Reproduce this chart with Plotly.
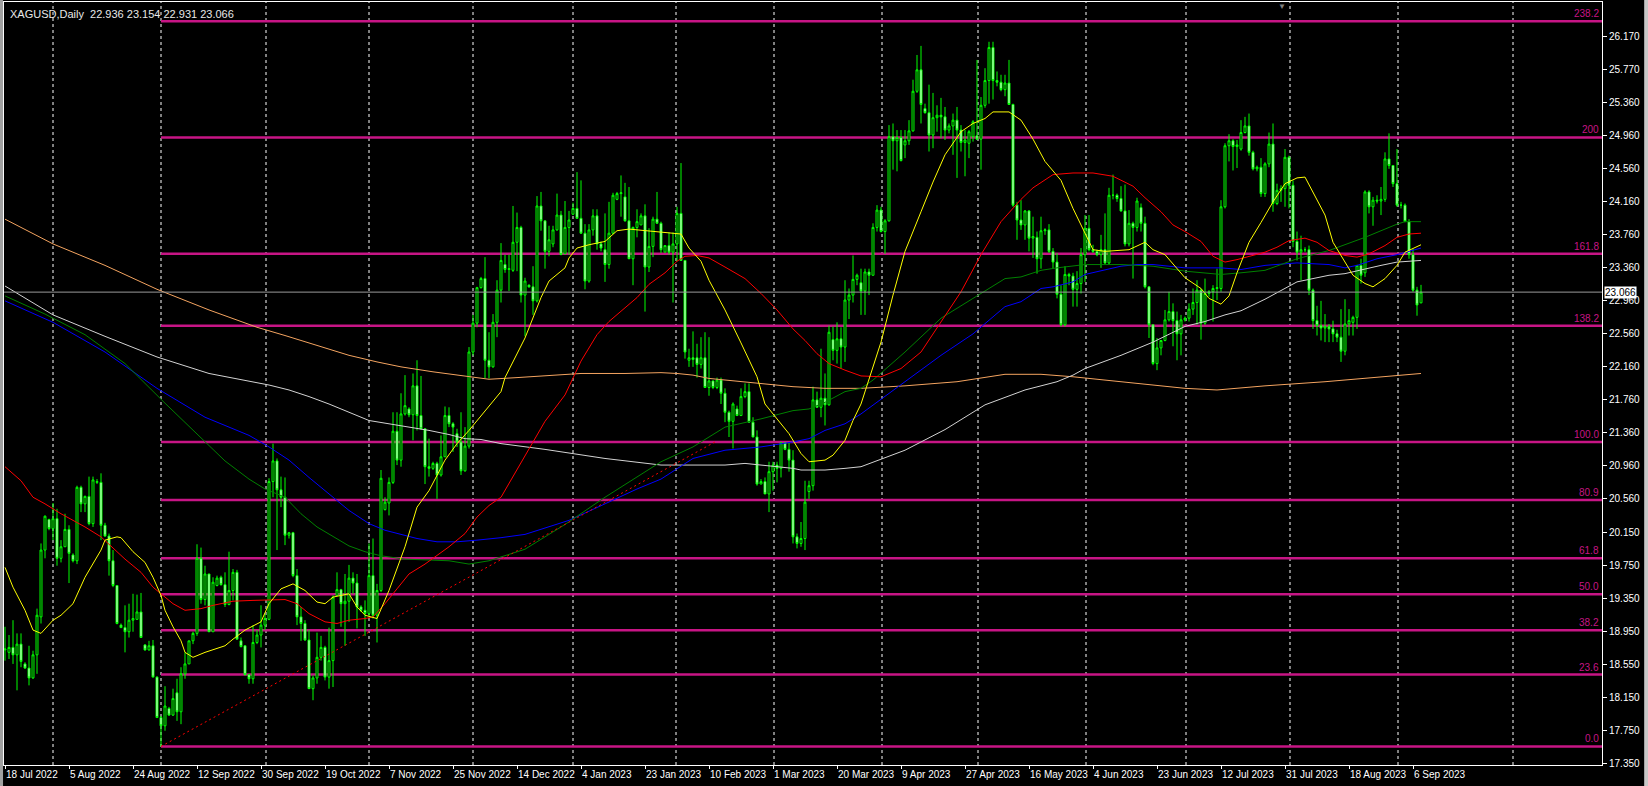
import plotly.graph_objects as go

# ---------------- DATA ----------------
opens = [
18.73,18.70,18.76,18.67,18.80,18.56,18.51,18.39,18.67,19.13,
19.94,20.31,20.20,20.32,19.84,19.98,20.19,19.88,19.81,20.70,
20.50,20.59,20.26,20.76,20.76,20.24,20.11,19.81,19.51,19.03,
19.00,18.95,19.09,19.10,19.19,18.79,18.73,18.78,18.40,17.91,
17.81,18.02,17.94,18.21,17.98,18.44,18.56,18.84,18.93,19.84,
19.34,19.65,18.95,19.51,19.61,19.52,19.28,19.45,19.67,18.84,
18.78,18.43,18.38,18.82,18.91,19.03,19.10,20.77,21.02,20.67,
20.58,20.12,20.15,19.63,19.13,19.05,18.85,18.26,18.39,18.64,
18.76,18.40,18.60,19.39,19.46,19.29,19.32,19.60,19.54,19.25,
19.21,19.17,19.63,19.15,19.45,20.43,20.51,20.76,21.38,21.03,
21.59,21.65,21.58,21.93,21.57,21.41,20.95,20.93,20.99,20.85,
21.07,21.57,21.47,21.35,21.25,20.90,21.20,22.34,22.69,23.12,
23.23,22.24,22.16,22.70,23.09,23.40,23.34,23.33,23.67,23.85,
23.03,23.15,23.13,22.96,24.11,23.93,23.56,23.65,23.82,24.00,
23.53,23.85,24.01,24.08,23.96,23.78,23.20,23.82,23.99,23.65,
23.58,23.40,23.78,24.19,24.26,24.22,23.93,23.47,23.85,23.88,
23.99,23.37,23.62,23.95,23.90,23.55,23.63,23.55,23.65,24.02,
23.45,22.24,22.27,22.27,22.19,22.27,21.91,21.99,21.91,22.00,
21.84,21.61,21.50,21.65,21.57,21.80,21.86,21.49,21.31,20.74,
20.77,20.62,20.89,20.97,20.93,21.24,21.16,21.03,20.10,20.02,
20.08,20.65,20.72,21.76,21.67,21.78,21.70,22.49,22.36,22.50,
22.40,22.97,23.03,23.22,23.18,23.08,23.31,23.27,23.85,24.06,
23.80,23.93,24.95,24.90,24.94,24.85,24.90,25.02,25.50,25.76,
25.29,25.24,24.97,25.18,25.21,25.19,25.03,25.08,25.15,25.03,
24.88,24.87,24.95,24.96,24.92,25.33,25.63,26.03,25.63,25.61,
25.52,25.60,25.34,24.12,23.94,23.88,24.05,23.72,23.73,23.47,
23.81,23.82,23.56,23.43,23.04,22.67,23.28,23.26,23.10,23.17,
23.52,23.84,23.58,23.56,23.52,23.58,23.42,24.24,24.24,24.20,
24.05,23.65,23.90,23.85,24.09,23.90,23.13,22.67,22.20,22.39,
22.48,22.73,22.83,22.72,22.56,22.73,22.75,22.86,22.94,23.09,
22.69,23.05,23.07,23.11,23.11,24.10,24.84,24.90,24.83,24.80,
25.00,25.08,24.76,24.56,24.58,24.26,24.62,24.86,24.14,24.30,
24.32,24.70,24.36,23.68,23.55,23.58,23.58,23.09,22.72,22.66,
22.63,22.65,22.62,22.56,22.52,22.35,22.68,22.70,22.76,23.39,
23.30,24.28,24.10,24.18,24.17,24.19,24.68,24.60,24.38,24.12,
24.12,23.92,23.52,23.09,22.936]

highs = [
19.01,18.91,19.09,18.93,18.93,18.58,18.78,18.72,19.23,20.02,
20.36,20.32,20.51,20.44,20.06,20.38,20.24,19.90,20.72,20.72,
20.60,20.83,20.83,20.80,20.87,20.27,20.14,19.94,19.51,19.05,
19.27,19.29,19.41,19.40,19.42,18.80,18.84,18.85,18.41,17.93,
18.29,18.04,18.26,18.38,18.52,18.70,18.84,18.95,20.01,19.97,
19.75,19.65,19.61,19.63,19.63,19.67,19.92,19.71,19.70,18.88,
18.78,18.44,19.03,18.97,19.27,19.17,20.81,21.23,21.05,20.83,
20.82,20.16,20.16,19.71,19.25,19.09,18.97,18.42,18.94,18.90,
18.78,19.00,19.39,19.67,19.47,19.65,19.76,19.67,19.65,19.27,
19.33,20.02,20.08,19.53,20.91,20.58,20.82,21.61,21.61,21.84,
22.06,21.67,22.08,22.24,22.05,21.41,21.29,21.01,21.01,21.33,
21.68,21.67,21.49,21.41,21.61,21.43,22.40,22.79,23.13,23.25,
23.49,22.58,22.80,23.21,23.66,23.52,23.52,24.11,24.03,23.87,
23.24,23.16,23.38,24.23,24.28,23.93,23.87,23.87,24.26,24.05,
24.17,24.05,24.15,24.52,24.42,23.89,23.89,24.07,24.07,23.68,
24.02,24.16,24.27,24.28,24.48,24.39,24.34,23.86,24.07,24.02,
24.13,23.84,23.98,24.28,23.92,23.63,23.79,23.79,24.10,24.63,
23.45,22.38,22.59,22.44,22.52,22.58,22.52,21.99,22.03,22.03,
21.90,21.63,21.73,21.69,21.90,21.96,21.96,21.55,21.39,20.80,
20.82,21.01,21.01,21.01,21.25,21.24,21.25,21.15,20.14,20.28,
20.78,20.78,21.92,21.86,22.38,22.08,22.66,22.65,22.70,22.64,
23.21,23.11,23.51,23.29,23.35,23.35,23.35,23.90,24.12,24.10,
23.95,25.09,25.11,25.03,25.03,25.03,25.15,25.64,25.94,26.05,
25.35,25.58,25.48,25.33,25.42,25.31,25.11,25.23,25.31,25.09,
25.03,25.03,25.15,25.88,25.43,25.78,26.10,26.10,25.74,25.70,
25.70,25.88,25.35,24.16,24.18,24.06,24.06,23.98,23.80,23.98,
23.84,23.89,23.60,23.54,23.15,23.38,23.30,23.30,23.32,23.60,
24.00,24.00,23.64,23.58,23.76,24.02,24.33,24.49,24.26,24.35,
24.37,24.06,23.92,24.21,24.14,23.98,23.13,22.67,22.51,22.48,
22.85,23.07,22.93,22.83,22.79,22.77,22.93,23.11,23.21,23.11,
23.23,23.09,23.15,23.35,24.18,24.87,24.98,24.92,24.91,25.15,
25.19,25.23,24.78,24.60,24.69,24.64,25.00,25.11,24.38,24.36,
24.80,24.72,24.42,23.80,23.75,23.61,23.63,23.11,22.90,22.96,
22.80,22.68,22.72,22.61,22.86,22.98,22.86,22.78,23.39,23.47,
24.30,24.30,24.22,24.24,24.34,24.76,24.99,24.60,24.80,24.16,
24.14,23.95,23.59,23.13,23.154]

lows = [
18.60,18.62,18.56,18.24,18.52,18.50,18.30,18.38,18.44,19.05,
19.84,20.18,20.06,19.75,19.79,19.98,19.54,19.79,19.77,20.40,
20.40,20.24,20.22,20.74,20.06,20.10,19.63,19.49,19.04,19.00,
18.70,18.88,18.95,19.10,18.88,18.72,18.72,18.40,17.91,17.56,
17.75,17.93,17.93,17.87,17.83,18.38,18.56,18.80,18.90,19.29,
19.27,18.95,18.95,19.50,19.51,19.25,19.27,19.33,18.86,18.76,
18.42,18.32,18.32,18.80,18.76,18.97,19.09,20.58,19.94,20.46,
20.00,20.08,19.61,19.03,18.84,18.84,18.26,18.12,18.32,18.60,
18.36,18.26,18.28,19.39,19.01,18.78,19.07,19.41,18.99,19.19,
18.90,19.13,19.11,18.82,19.43,20.42,20.36,20.74,20.97,20.95,
21.57,21.55,21.27,21.39,21.40,20.74,20.83,20.91,20.56,20.83,
21.07,21.43,21.13,21.19,20.85,20.89,21.17,22.30,22.64,23.11,
22.02,22.02,22.15,22.52,22.94,23.30,23.08,23.31,23.32,22.94,
22.53,23.12,22.79,22.94,23.81,23.35,23.50,23.61,23.81,23.52,
23.53,23.52,24.00,23.96,23.77,23.10,23.18,23.75,23.58,23.56,
23.19,23.35,23.77,24.18,23.98,23.92,23.47,23.15,23.73,23.88,
22.83,23.31,23.49,23.90,23.54,23.55,23.52,22.94,23.44,23.45,
22.26,22.16,22.16,22.03,22.14,21.91,21.81,21.89,21.89,21.71,
21.49,21.31,21.17,21.57,21.57,21.78,21.49,21.31,20.72,20.74,
20.62,20.40,20.66,20.76,20.82,21.15,20.89,20.02,19.96,19.98,
19.94,20.56,20.66,21.67,21.55,21.45,21.69,22.24,22.20,22.14,
22.22,22.74,22.94,23.15,22.79,22.79,23.03,23.27,23.80,23.79,
23.53,23.92,24.55,24.53,24.65,24.69,24.85,25.01,25.48,25.11,
25.23,24.77,24.81,25.01,24.93,24.91,24.99,24.73,24.45,24.77,
24.47,24.69,24.89,24.91,24.55,25.30,25.35,25.40,25.56,25.50,
25.44,25.34,24.10,23.70,23.82,23.70,23.56,23.48,23.29,23.35,
23.76,23.54,23.35,22.99,22.65,22.65,23.15,22.89,22.89,23.05,
23.19,23.56,23.54,23.50,23.36,23.40,23.40,24.19,24.16,24.04,
23.62,23.62,23.23,23.80,23.80,23.11,22.51,22.18,22.12,22.30,
22.47,22.71,22.41,22.24,22.30,22.71,22.71,22.79,22.67,22.49,
22.67,23.01,22.71,22.97,23.07,24.08,24.65,24.54,24.57,24.78,
24.99,24.72,24.54,24.53,24.22,24.22,24.58,24.04,24.12,24.16,
24.10,24.08,23.61,23.45,23.21,23.55,23.03,22.62,22.54,22.48,
22.46,22.46,22.46,22.46,22.22,22.30,22.54,22.54,22.62,23.17,
23.25,24.02,23.87,24.14,24.00,24.16,24.56,24.34,24.10,24.08,
23.92,23.47,23.07,22.78,22.931]

closes = [
18.74,18.76,18.67,18.80,18.59,18.51,18.39,18.67,19.15,19.94,
20.35,20.20,20.32,19.84,19.98,20.19,19.90,19.81,20.70,20.50,
20.59,20.26,20.79,20.77,20.24,20.11,19.81,19.51,19.05,19.00,
18.95,19.09,19.11,19.19,18.88,18.73,18.78,18.40,17.91,17.81,
18.05,17.94,18.14,17.98,18.44,18.56,18.84,18.93,19.84,19.34,
19.65,18.95,19.55,19.60,19.52,19.28,19.45,19.67,18.86,18.77,
18.43,18.38,18.82,18.91,19.03,19.11,20.77,21.02,20.67,20.58,
20.12,20.15,19.63,19.13,19.05,18.85,18.26,18.39,18.64,18.76,
18.40,18.60,19.37,19.46,19.29,19.32,19.60,19.54,19.25,19.21,
19.17,19.63,19.15,19.45,20.81,20.52,20.76,21.38,21.03,21.59,
21.69,21.58,21.93,21.57,21.41,20.95,20.93,20.99,20.85,21.07,
21.57,21.47,21.43,21.25,20.90,21.20,22.34,22.69,23.12,23.23,
22.24,22.16,22.70,23.09,23.45,23.34,23.35,23.67,23.85,23.03,
23.20,23.13,22.96,24.11,23.93,23.56,23.70,23.82,24.00,23.52,
23.85,23.94,24.08,23.96,23.78,23.20,23.82,23.99,23.65,23.60,
23.40,23.78,24.24,24.26,24.27,23.93,23.47,23.85,23.92,23.99,
23.37,23.62,23.95,23.90,23.58,23.63,23.55,23.65,24.02,23.45,
22.34,22.27,22.25,22.19,22.27,21.91,21.99,21.91,22.00,21.84,
21.61,21.50,21.71,21.57,21.80,21.86,21.49,21.31,20.74,20.77,
20.62,20.89,20.97,20.93,21.24,21.16,21.03,20.10,20.02,20.08,
20.52,20.72,21.76,21.67,21.78,21.70,22.58,22.36,22.50,22.40,
22.97,23.03,23.22,23.27,23.08,23.31,23.27,23.85,24.06,23.80,
23.93,24.95,24.90,24.94,24.66,24.90,25.02,25.50,25.76,25.34,
25.24,24.97,25.18,25.21,25.19,25.03,25.08,25.15,25.03,24.88,
24.91,25.01,25.13,24.92,25.33,25.63,26.03,25.63,25.61,25.52,
25.60,25.34,24.12,23.94,23.88,24.05,23.72,23.74,23.47,23.81,
23.82,23.56,23.43,23.04,22.67,23.28,23.26,23.10,23.17,23.52,
23.84,23.58,23.56,23.52,23.58,23.42,24.24,24.24,24.20,24.05,
23.65,23.90,23.85,24.17,23.90,23.13,22.67,22.20,22.39,22.48,
22.73,22.83,22.72,22.56,22.73,22.75,22.86,22.94,23.09,22.69,
23.05,23.07,23.11,23.12,24.10,24.84,24.90,24.83,24.85,25.00,
25.08,24.76,24.56,24.58,24.26,24.62,24.86,24.14,24.30,24.32,
24.70,24.36,23.68,23.55,23.58,23.58,23.09,22.72,22.66,22.63,
22.65,22.62,22.56,22.52,22.35,22.68,22.72,22.76,23.39,23.27,
24.28,24.10,24.18,24.17,24.19,24.68,24.60,24.38,24.12,24.12,
23.92,23.52,23.09,22.91,23.066]

bar_index = list(range(len(closes)))

date_tick_bars = list(range(0, 353, 16))
date_tick_labels = ["18 Jul 2022", "5 Aug 2022", "24 Aug 2022", "12 Sep 2022", "30 Sep 2022",
                    "19 Oct 2022", "7 Nov 2022", "25 Nov 2022", "14 Dec 2022", "4 Jan 2023",
                    "23 Jan 2023", "10 Feb 2023", "1 Mar 2023", "20 Mar 2023", "9 Apr 2023",
                    "27 Apr 2023", "16 May 2023", "4 Jun 2023", "23 Jun 2023", "12 Jul 2023",
                    "31 Jul 2023", "18 Aug 2023", "6 Sep 2023"]

price_ticks = [26.170, 25.770, 25.360, 24.960, 24.560, 24.160, 23.760, 23.360, 22.960, 22.560,
               22.160, 21.760, 21.360, 20.960, 20.560, 20.150, 19.750, 19.350, 18.950, 18.550,
               18.150, 17.750, 17.350]

# moving averages (bar index, value)
ma_yellow_bars = [0,2,5,7,9,12,14,17,20,24,25,28,29,32,35,37,39,40,42,44,45,47,50,55,57,60,64,66,69,72,75,78,80,82,86,88,90,93,96,100,103,106,110,113,116,120,124,125,130,134,136,140,141,143,146,150,153,156,161,166,169,171,174,176,180,184,188,190,193,196,199,201,205,207,210,212,214,216,219,222,225,229,232,235,239,242,245,247,251,254,257,260,264,267,270,272,275,279,281,285,287,290,293,295,299,301,304,306,308,311,314,317,320,323,325,327,330,332,335,337,340,342,345,348,350,354]
ma_yellow = [19.73,19.49,19.21,18.97,18.93,19.09,19.15,19.29,19.61,19.94,20.06,20.10,20.09,19.92,19.79,19.61,19.39,19.21,19.01,18.84,18.70,18.64,18.70,18.78,18.86,18.97,19.07,19.29,19.47,19.53,19.45,19.31,19.29,19.37,19.41,19.25,19.15,19.11,19.45,19.98,20.46,20.66,21.03,21.23,21.39,21.63,21.86,22.03,22.51,23.00,23.20,23.36,23.48,23.60,23.64,23.68,23.81,23.83,23.81,23.79,23.77,23.60,23.44,23.21,22.85,22.45,22.04,21.71,21.53,21.35,21.11,21.01,21.03,21.09,21.27,21.51,21.71,22.00,22.46,23.03,23.56,24.04,24.40,24.73,25.01,25.11,25.17,25.25,25.25,25.15,24.92,24.65,24.42,24.08,23.79,23.58,23.56,23.57,23.58,23.67,23.58,23.52,23.36,23.24,23.11,22.99,22.92,23.02,23.30,23.67,23.91,24.16,24.38,24.45,24.46,24.28,24.00,23.67,23.43,23.27,23.17,23.13,23.23,23.39,23.55,23.64]

ma_red_bars = [0,4,7,10,14,17,20,24,27,30,34,37,39,42,45,49,52,57,62,70,73,76,80,83,86,90,92,95,98,101,105,108,111,115,118,121,124,135,140,144,148,151,155,158,161,165,168,170,173,176,180,185,189,193,197,200,203,206,210,214,219,224,229,234,239,244,249,254,257,262,267,272,277,282,285,289,292,295,299,302,305,308,311,315,318,321,325,328,331,335,338,341,345,348,351,354]
ma_red = [20.95,20.78,20.58,20.50,20.38,20.30,20.22,20.10,19.96,19.83,19.67,19.49,19.41,19.29,19.21,19.23,19.27,19.32,19.33,19.34,19.29,19.17,19.07,19.05,19.09,19.11,19.13,19.29,19.47,19.65,19.77,19.87,19.98,20.14,20.34,20.48,20.58,21.50,21.82,22.23,22.55,22.71,22.88,23.00,23.16,23.30,23.44,23.50,23.51,23.48,23.37,23.23,23.05,22.85,22.62,22.48,22.32,22.20,22.12,22.05,22.04,22.14,22.34,22.71,23.07,23.52,23.92,24.19,24.33,24.49,24.51,24.51,24.47,24.35,24.21,24.04,23.88,23.80,23.68,23.50,23.43,23.46,23.50,23.55,23.61,23.69,23.72,23.67,23.57,23.51,23.49,23.53,23.63,23.73,23.77,23.78]

ma_green_bars = [0,10,20,30,40,47,55,61,65,70,74,78,82,86,90,94,100,105,111,116,121,130,140,150,157,164,172,180,189,197,201,205,210,214,217,225,234,242,250,254,259,263,270,279,287,295,304,309,315,323,331,340,345,348,350,354]
ma_green = [23.02,22.80,22.55,22.20,21.72,21.39,21.02,20.80,20.68,20.58,20.38,20.22,20.10,19.99,19.92,19.87,19.83,19.82,19.81,19.77,19.81,19.95,20.25,20.58,20.80,21.01,21.19,21.43,21.53,21.63,21.65,21.73,21.86,21.90,22.00,22.34,22.75,22.99,23.23,23.25,23.33,23.36,23.40,23.40,23.38,23.32,23.28,23.30,23.33,23.47,23.57,23.73,23.83,23.89,23.92,23.92]

ma_blue_bars = [0,12,25,38,50,61,66,71,76,81,86,91,95,99,103,108,113,118,124,130,141,150,158,164,172,180,189,197,201,205,210,214,220,225,234,242,250,254,259,262,267,270,279,283,287,295,304,309,315,323,331,335,338,343,348,354]
ma_blue = [22.96,22.70,22.34,21.90,21.55,21.33,21.19,21.03,20.82,20.62,20.42,20.26,20.18,20.13,20.08,20.04,20.04,20.06,20.09,20.13,20.30,20.50,20.68,20.80,21.05,21.15,21.19,21.25,21.29,21.39,21.47,21.59,21.80,21.98,22.30,22.56,22.89,22.95,23.11,23.13,23.19,23.28,23.38,23.40,23.40,23.36,23.36,23.34,23.39,23.42,23.40,23.36,23.39,23.47,23.52,23.60]

ma_white_bars = [0,12,25,38,51,61,66,71,76,81,86,91,96,101,106,111,115,119,124,135,150,164,172,180,185,189,193,197,199,205,210,214,225,235,245,255,263,267,270,279,287,295,300,305,309,315,323,331,335,340,344,348,354]
ma_white = [23.14,22.79,22.53,22.28,22.08,21.99,21.94,21.88,21.80,21.71,21.61,21.51,21.47,21.43,21.39,21.34,21.29,21.28,21.23,21.16,21.05,20.97,20.97,20.97,20.99,20.97,20.95,20.93,20.91,20.91,20.93,20.95,21.15,21.40,21.70,21.88,21.98,22.06,22.14,22.30,22.46,22.65,22.71,22.79,22.84,22.98,23.19,23.27,23.29,23.35,23.39,23.43,23.45]

ma_orange_bars = [0,12,25,38,51,63,70,78,86,93,99,107,115,121,128,134,140,144,155,164,168,172,176,180,189,197,205,214,225,238,250,259,267,271,277,285,295,303,315,330,345,354]
ma_orange = [23.95,23.65,23.39,23.10,22.85,22.64,22.54,22.42,22.30,22.22,22.16,22.10,22.05,22.01,22.03,22.05,22.07,22.08,22.08,22.09,22.08,22.06,22.02,22.00,21.96,21.92,21.90,21.90,21.93,21.98,22.07,22.07,22.04,22.02,21.99,21.95,21.90,21.88,21.93,21.98,22.04,22.08]

# Fibonacci retracement drawn between the swing low and high
fib_anchor_bars = [39, 177.5]
fib_anchor_prices = [17.56, 21.25]
fib_ratios = [0.0, 23.6, 38.2, 50.0, 61.8, 80.9, 100.0, 138.2, 161.8, 200.0, 238.2]
fib_labels = ["0.0", "23.6", "38.2", "50.0", "61.8", "80.9", "100.0", "138.2", "161.8", "200", "238.2"]

month_grid_bars = [12, 39, 65.25, 91, 117, 142, 167.75, 192.25, 219.25, 243.25, 270.25, 295.25, 321.25, 348.25, 377]
bid_price = 23.066
title_text = "XAGUSD,Daily  22.936 23.154 22.931 23.066"

# ---------------- FIGURE ----------------
FONT = "Liberation Sans, Arial, sans-serif"
XR = [-0.25, 399.25]
YR = [17.335, 26.582]
FIB_COL = "#C71585"

fig = go.Figure()

fig.add_trace(go.Candlestick(
    x=bar_index, open=opens, high=highs, low=lows, close=closes,
    increasing=dict(line=dict(color="#00FF00", width=1), fillcolor="#000000"),
    decreasing=dict(line=dict(color="#00FF00", width=1), fillcolor="#FFFFFF"),
    whiskerwidth=0, showlegend=False, hoverinfo="skip"))

for bx, vals, col in [(ma_orange_bars, ma_orange, "#F4A460"),
                      (ma_white_bars, ma_white, "#D3D3D3"),
                      (ma_blue_bars, ma_blue, "#0000FF"),
                      (ma_green_bars, ma_green, "#008000"),
                      (ma_red_bars, ma_red, "#FF0000"),
                      (ma_yellow_bars, ma_yellow, "#FFFF00")]:
    fig.add_trace(go.Scatter(x=bx, y=vals, mode="lines", line=dict(color=col, width=1),
                             showlegend=False, hoverinfo="skip"))

# fib trend (diagonal dotted)
fig.add_trace(go.Scatter(x=fib_anchor_bars, y=fib_anchor_prices, mode="lines",
                         line=dict(color="#FF0000", width=1, dash="2px,3px"),
                         showlegend=False, hoverinfo="skip"))

shapes = []
for gx in month_grid_bars:
    shapes.append(dict(type="line", xref="x", yref="paper", x0=gx, x1=gx, y0=0, y1=1,
                       line=dict(color="#FFFFFF", width=1, dash="3px,3px"), layer="below"))

lo, hi = fib_anchor_prices
annotations = []
for r, lab in zip(fib_ratios, fib_labels):
    lvl = lo + (hi - lo) * r / 100.0
    shapes.append(dict(type="line", xref="x", yref="y", x0=fib_anchor_bars[0], x1=XR[1],
                       y0=lvl, y1=lvl, line=dict(color=FIB_COL, width=2.5), layer="below"))
    annotations.append(dict(xref="paper", yref="y", x=1, y=lvl, text=lab, showarrow=False,
                            xanchor="right", yanchor="bottom", xshift=-1, yshift=0,
                            font=dict(family=FONT, size=10, color=FIB_COL)))

# bid line
shapes.append(dict(type="line", xref="paper", yref="y", x0=0, x1=1, y0=bid_price, y1=bid_price,
                   line=dict(color="#9A9A9A", width=1), layer="above"))

# window borders
shapes.append(dict(type="rect", xref="paper", yref="paper", x0=-0.0026, x1=-0.0006, y0=-0.03, y1=1.01,
                   fillcolor="#A0A0A0", line=dict(width=0)))
shapes.append(dict(type="rect", xref="paper", yref="paper", x0=1.0264, x1=1.031, y0=-0.03, y1=1.01,
                   fillcolor="#C8C8C8", line=dict(width=0)))

annotations.append(dict(xref="paper", yref="y", x=1, y=bid_price, text=f"{bid_price:.3f}",
                        showarrow=False, xanchor="left", xshift=2,
                        bgcolor="#FFFFFF", borderpad=0,
                        font=dict(family=FONT, size=10, color="#000000")))
annotations.append(dict(xref="paper", yref="paper", x=0, y=1, text=title_text, showarrow=False,
                        xanchor="left", yanchor="top", xshift=4, yshift=-4,
                        font=dict(family=FONT, size=11, color="#E8E8E8")))
annotations.append(dict(xref="x", yref="paper", x=319.25, y=1, text="▼", showarrow=False,
                        yanchor="top", yshift=2, font=dict(size=8, color="#808080")))

fig.update_layout(
    width=1648, height=786,
    margin=dict(l=4, r=46, t=2, b=21, autoexpand=False),
    paper_bgcolor="#000000", plot_bgcolor="#000000",
    showlegend=False,
    shapes=shapes, annotations=annotations,
    font=dict(family=FONT, color="#FFFFFF", size=10),
    xaxis=dict(range=XR, rangeslider=dict(visible=False), showgrid=False, zeroline=False,
               automargin=False, tickangle=0,
               tickmode="array", tickvals=date_tick_bars, ticktext=date_tick_labels,
               ticks="outside", ticklen=3, tickcolor="#FFFFFF", ticklabelposition="outside right",
               showline=True, linecolor="#FFFFFF", linewidth=1, mirror=True,
               tickfont=dict(family=FONT, size=10, color="#FFFFFF")),
    yaxis=dict(range=YR, side="right", showgrid=False, zeroline=False, automargin=False,
               tickmode="array", tickvals=price_ticks, ticktext=[f"{v:.3f}" for v in price_ticks],
               ticks="outside", ticklen=4, tickcolor="#FFFFFF",
               showline=True, linecolor="#FFFFFF", linewidth=1, mirror=True,
               tickfont=dict(family=FONT, size=10, color="#FFFFFF")),
)

fig.write_html("out.html",
               config={"displayModeBar": False},
               post_script="document.body.style.margin='0';document.body.style.padding='0';"
                           "document.body.style.background='#000000';")
